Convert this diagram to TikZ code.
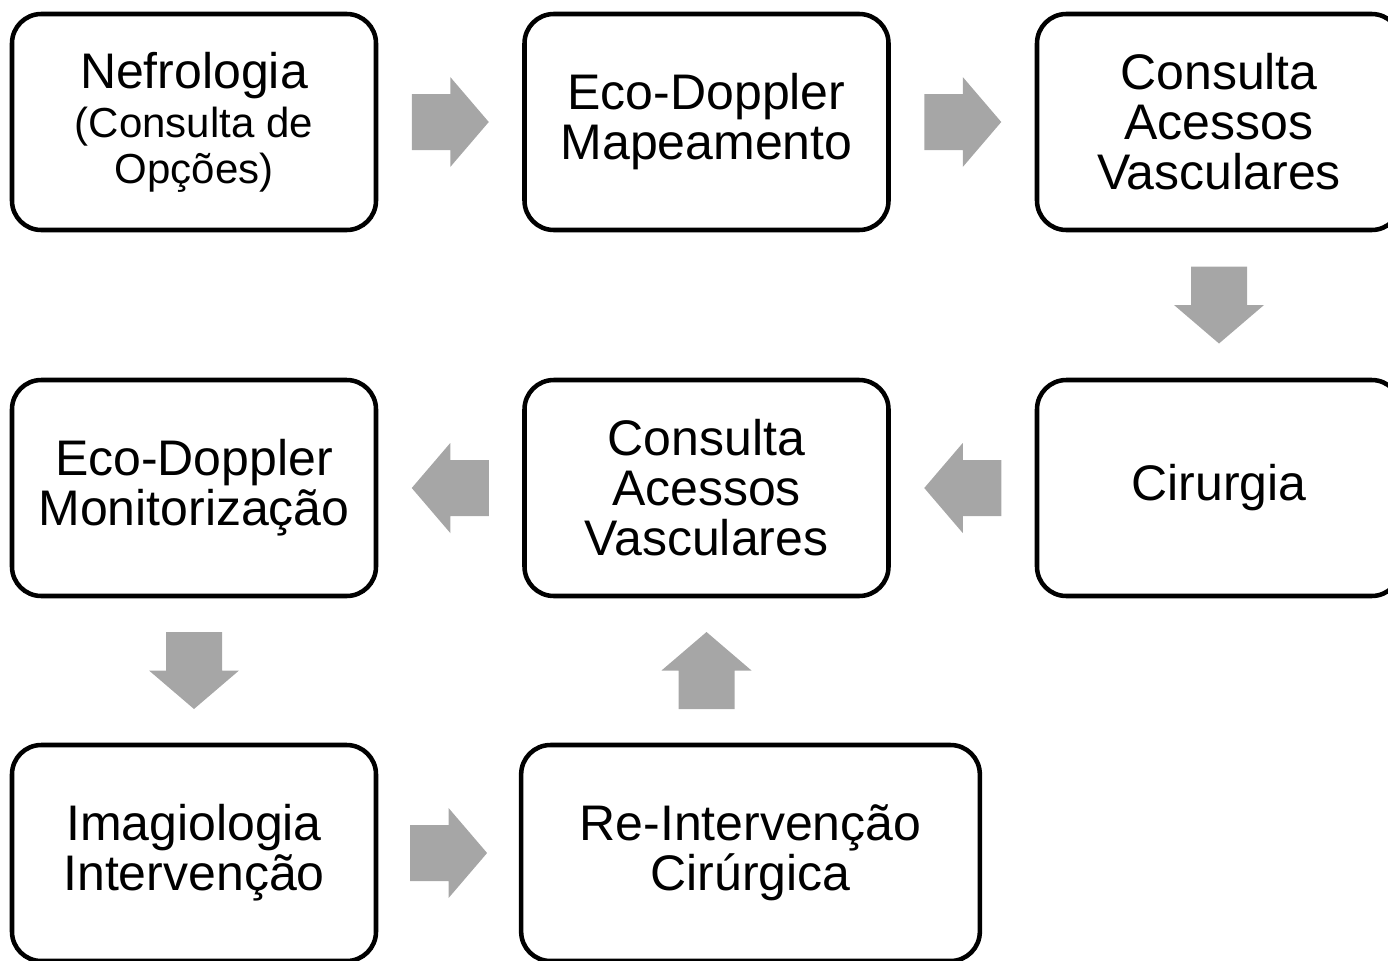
\documentclass[tikz,border=0pt]{standalone}
\usepackage{fontspec}
\setmainfont{Liberation Sans}
\usetikzlibrary{calc}
\definecolor{arrowgray}{RGB}{166,166,166}

\begin{document}
\begin{tikzpicture}[x=0.75pt, y=-0.75pt,
  box/.style={draw, line width=3.4pt, rounded corners=22pt, fill=white, minimum width=273pt, minimum height=162pt, align=center, inner sep=0pt, font=\fontsize{37.5}{37.5}\selectfont},
  garrow/.pic={\fill[arrowgray] (-38.5,-28) -- (0,-28) -- (0,-45) -- (38.5,0) -- (0,45) -- (0,28) -- (-38.5,28) -- cycle;}]
\useasboundingbox (0,0) rectangle (1388,960);
\node[box] (nefro) at (194, 122) {Nefrologia\\[-0.5pt]\fontsize{31.5}{31.5}\selectfont (Consulta de\\[-3pt]\fontsize{31.5}{31.5}\selectfont Opções)};
\node[box] (eco) at (706.5, 122) {Eco-Doppler\\Mapeamento};
\node[box] (cav1) at (1219, 122) {Consulta\\Acessos\\Vasculares};
\node[box] (ecomon) at (194, 488) {Eco-Doppler\\Monitorização};
\node[box] (cav2) at (706.5, 488) {Consulta\\Acessos\\Vasculares};
\node[box] (cir) at (1219, 488) {Cirurgia};
\node[box] (imag) at (194, 853) {Imagiologia\\Intervenção};
\node[box, minimum width=344pt] (reint) at (750.5, 853) {Re-Intervenção\\Cirúrgica};
% block arrows
\pic at ($(nefro.east)!0.5!(eco.west)$) {garrow};
\pic at ($(eco.east)!0.5!(cav1.west)$) {garrow};
\pic[rotate=-90] at ($(cav1.south)!0.5!(cir.north)$) {garrow};
\pic[rotate=180] at ($(cir.west)!0.5!(cav2.east)$) {garrow};
\pic[rotate=180] at ($(cav2.west)!0.5!(ecomon.east)$) {garrow};
\pic[rotate=-90] at ($(ecomon.south)!0.5!(imag.north)$) {garrow};
\pic at ($(imag.east)!0.5!(reint.west)$) {garrow};
\pic[rotate=90] at ($(cav2.south)!0.5!(cav2.south |- reint.north)$) {garrow};
\end{tikzpicture}
\end{document}
